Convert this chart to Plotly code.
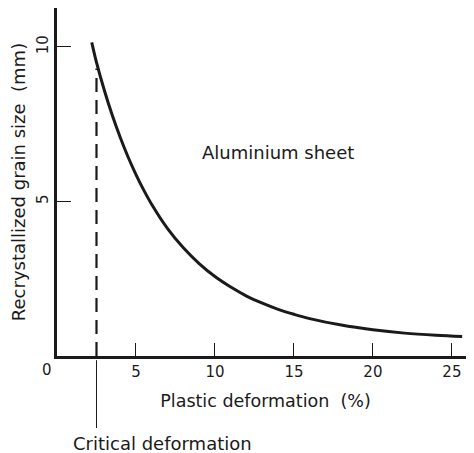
import plotly.graph_objects as go

# Data
deformation = [2.2, 2.5, 3.0, 3.5, 4.0, 4.5, 5.0, 5.5, 6.0, 7.0, 8.0, 9.0, 10.0, 11.0, 12.0, 13.0,
               14.0, 15.0, 16.0, 18.0, 20.0, 22.0, 24.0, 25.65]
grain_size = [10.15, 9.5, 8.59, 7.79, 7.08, 6.44, 5.87, 5.36, 4.9, 4.12, 3.5, 2.99, 2.57, 2.23, 1.94, 1.71,
              1.51, 1.35, 1.21, 1.0, 0.85, 0.74, 0.67, 0.63]
critical_x = 2.5
critical_y = 9.3
x_ticks = [5, 10, 15, 20, 25]
y_ticks = [5, 10]

FONT = "DejaVu Sans"
INK = "#1a1a1a"

fig = go.Figure()
fig.add_trace(go.Scatter(x=deformation, y=grain_size, mode="lines",
                         line=dict(color=INK, width=3, shape="spline"),
                         hoverinfo="skip", showlegend=False))
fig.add_trace(go.Scatter(x=[critical_x, critical_x], y=[0, critical_y], mode="lines",
                         line=dict(color=INK, width=2.2, dash="14px,8px"),
                         hoverinfo="skip", showlegend=False))

fig.add_shape(type="line", xref="x", yref="paper", x0=critical_x, x1=critical_x,
              y0=-0.012, y1=-0.207, line=dict(color=INK, width=1))

fig.add_annotation(text="Critical deformation", xref="x", yref="paper", x=6.65, y=-0.25,
                   yanchor="middle", showarrow=False, font=dict(family=FONT, size=18, color=INK))
fig.add_annotation(text="Aluminium sheet", xref="x", yref="y", x=14.0, y=6.6,
                   showarrow=False, font=dict(family=FONT, size=18, color=INK))
fig.add_annotation(text="0", xref="x", yref="paper", x=0, y=-0.04, xshift=-10,
                   showarrow=False, yanchor="middle",
                   font=dict(family=FONT, size=15, color=INK))

# The page body adds an 8px offset, so the figure is 8px smaller and margins compensate
fig.update_layout(
    width=466, height=445,
    margin=dict(l=49, r=0, t=0, b=97),
    paper_bgcolor="white", plot_bgcolor="white",
    font=dict(family=FONT, color=INK),
    xaxis=dict(range=[0, 26.4], tickvals=x_ticks, ticks="inside", ticklen=13,
               tickwidth=1, tickcolor=INK, showline=True, linecolor=INK, linewidth=2.5,
               showgrid=False, zeroline=False, tickfont=dict(family=FONT, size=15),
               automargin=False,
               title=dict(text="Plastic deformation  (%)", font=dict(family=FONT, size=17.5),
                          standoff=15)),
    yaxis=dict(range=[0, 11.26], tickvals=y_ticks, ticks="inside", ticklen=14,
               tickwidth=1, tickcolor=INK, showline=True, linecolor=INK, linewidth=2.5,
               showgrid=False, zeroline=False, tickangle=-90, automargin=False,
               tickfont=dict(family=FONT, size=15),
               title=dict(text="Recrystallized grain size  (mm)", font=dict(family=FONT, size=18),
                          standoff=8)),
)

fig.write_html("out.html")
